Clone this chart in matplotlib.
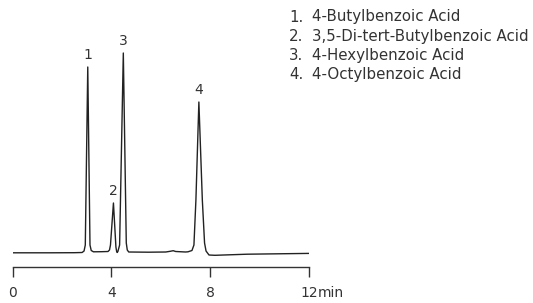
import matplotlib
matplotlib.use("Agg")
import matplotlib.pyplot as plt

plt.rcParams['font.family'] = ['DejaVu Sans']

# Chromatogram trace (time in min, detector signal in arbitrary units)
time_min = [0.0, 1.5, 2.5, 2.81, 2.89, 2.94, 3.04, 3.13, 3.18, 3.27,
            3.6, 3.86, 3.92, 3.96, 4.08, 4.18, 4.21, 4.23, 4.26, 4.33,
            4.48, 4.60, 4.64, 4.70, 5.5, 6.2, 6.4, 6.5, 6.6, 7.0,
            7.10, 7.26, 7.34, 7.42, 7.54, 7.68, 7.77, 7.83, 7.95, 8.19,
            9.5, 12.0]
signal = [0.2, 0.2, 0.3, 0.5, 2.0, 8.0, 186.0, 8.0, 2.5, 1.2,
          1.3, 1.5, 3.0, 8.0, 50.0, 6.0, 1.5, 0.5, 1.5, 8.0,
          200.0, 10.0, 3.0, 1.0, 0.8, 1.0, 1.8, 2.3, 1.5, 1.0,
          1.2, 2.5, 8.0, 53.0, 151.0, 53.0, 10.0, 2.0, -2.0, -2.3,
          -1.2, -0.4]

peak_labels = ["1", "2", "3", "4"]
peak_times = [3.04, 4.08, 4.48, 7.54]
peak_heights = [186.0, 50.0, 200.0, 151.0]

legend_numbers = ["1.", "2.", "3.", "4."]
legend_names = ["4-Butylbenzoic Acid",
                "3,5-Di-tert-Butylbenzoic Acid",
                "4-Hexylbenzoic Acid",
                "4-Octylbenzoic Acid"]

x_ticks = [0, 4, 8, 12]
x_tick_labels = ["0", "4", "8", "12"]
x_unit = "min"

W, H = 533, 303
fig = plt.figure(figsize=(W / 100, H / 100), dpi=100)

x0_px, x1_px = 12.7, 309.0
bottom_px, top_px = 266.5, 40.0
ax = fig.add_axes([x0_px / W, (H - bottom_px) / H, (x1_px - x0_px) / W, (bottom_px - top_px) / H])
ax.set_xlim(0, 12)
ax.set_ylim(253 - bottom_px, 253 - top_px)

col = "#222222"
txtcol = "#333333"
ax.plot(time_min, signal, color=col, lw=1.0, solid_joinstyle='round')

for lab, t, h in zip(peak_labels, peak_times, peak_heights):
    ax.annotate(lab, (t, h), xytext=(0, 3.5), textcoords='offset points',
                ha='center', va='bottom', fontsize=10, color=txtcol)

for s in ['top', 'right', 'left']:
    ax.spines[s].set_visible(False)
ax.spines['bottom'].set_color(txtcol)
ax.spines['bottom'].set_linewidth(1.0)
ax.set_yticks([])
ax.set_xticks(x_ticks)
ax.set_xticklabels(x_tick_labels)
ax.tick_params(axis='x', direction='out', length=7.5, width=1.0, color=txtcol,
               pad=6.5, labelsize=10, labelcolor=txtcol)
ax.patch.set_alpha(0)

# unit text right after the last tick label
fig.canvas.draw()
renderer = fig.canvas.get_renderer()
last = ax.get_xticklabels()[-1]
bb = last.get_window_extent(renderer)
dx_pt = (bb.x1 - ax.transData.transform((12, 0))[0]) * 72 / 100
ax.annotate(x_unit, xy=(12, 0), xycoords=('data', 'axes fraction'),
            xytext=(dx_pt, -7.5 - 6.5), textcoords='offset points',
            ha='left', va='top', fontsize=10, color=txtcol)

baselines_px = [21.5, 40.8, 60.1, 79.4]
for num, name, yb in zip(legend_numbers, legend_names, baselines_px):
    fig.text(289 / W, (H - yb) / H, num, ha='left', va='baseline',
             fontsize=10.8, color=txtcol)
    fig.text(311.5 / W, (H - yb) / H, name, ha='left', va='baseline',
             fontsize=10.8, color=txtcol)

fig.savefig("out.png", dpi=100)
